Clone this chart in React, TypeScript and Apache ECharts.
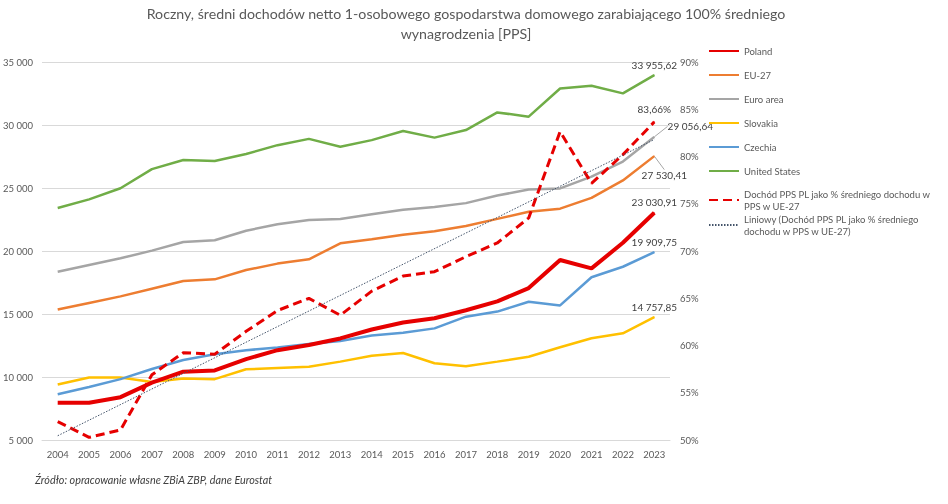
import React, { useEffect, useRef } from 'react';
import * as echarts from 'echarts';

const years = ['2004', '2005', '2006', '2007', '2008', '2009', '2010', '2011', '2012', '2013',
  '2014', '2015', '2016', '2017', '2018', '2019', '2020', '2021', '2022', '2023'];

// dochód w PPS
const poland = [7950, 7950, 8400, 9550, 10420, 10520, 11420, 12130, 12540, 13060,
  13770, 14320, 14660, 15300, 16000, 17060, 19290, 18620, 20650, 23030.91];
const eu27 = [15350, 15880, 16400, 17010, 17620, 17750, 18490, 19000, 19340, 20610,
  20940, 21290, 21560, 21980, 22550, 23120, 23360, 24220, 25600, 27530.41];
const euroArea = [18360, 18890, 19420, 20030, 20710, 20850, 21610, 22120, 22460, 22540,
  22910, 23280, 23490, 23800, 24400, 24880, 24970, 25900, 27100, 29056.64];
const slovakia = [9400, 9960, 9960, 9600, 9890, 9830, 10610, 10720, 10820, 11220,
  11680, 11900, 11090, 10850, 11220, 11610, 12360, 13070, 13470, 14757.85];
const czechia = [8630, 9200, 9830, 10630, 11350, 11800, 12120, 12350, 12620, 12860,
  13300, 13520, 13860, 14790, 15190, 15970, 15680, 17920, 18750, 19909.75];
const unitedStates = [23410, 24100, 24980, 26500, 27220, 27150, 27700, 28400, 28900, 28280,
  28800, 29520, 29000, 29600, 31000, 30660, 32900, 33120, 32510, 33955.62];

// dochód PL jako % średniego dochodu w UE-27
const plShare = [51.94, 50.28, 51.06, 56.9, 59.24, 59.08, 61.5, 63.7, 64.99, 63.2,
  65.75, 67.35, 67.81, 69.4, 70.85, 73.5, 82.63, 77.16, 80.2, 83.66];
const trendStart = 50.45;
const trendEnd = 81.8;

const leftTicks = { min: 5000, max: 35000, interval: 5000 };
const rightTicks = { min: 50, max: 90, interval: 5 };

const FONT = 'Lato, "Open Sans", sans-serif';
const TXT = '#595959';

const thousands = (v: number) => String(v).replace(/\B(?=(\d{3})+(?!\d))/g, ' ');
const money = (v: number) => {
  const [i, d] = v.toFixed(2).split('.');
  return thousands(Number(i)) + ',' + d;
};

export default function App() {
  const chartRef = useRef<HTMLDivElement>(null);

  useEffect(() => {
    if (!chartRef.current) return;
    const chart = echarts.init(chartRef.current, null, { renderer: 'svg' });

    // etykieta tylko przy ostatnim punkcie
    const lastLabel = (arr: number[], text: string, extra: any = {}) =>
      arr.map((v, i) =>
        i === arr.length - 1
          ? {
              value: v,
              symbol: 'circle',
              symbolSize: 1,
              label: {
                show: true,
                position: 'top',
                distance: 5,
                formatter: text,
                color: '#404040',
                fontSize: 10,
                fontFamily: FONT,
                ...extra,
              },
            }
          : v
      );

    const moneySeries = (name: string, data: number[], color: string, width: number, extra: any = {}, labelExtra: any = {}) => ({
      name,
      type: 'line',
      data: lastLabel(data, money(data[data.length - 1]), labelExtra),
      symbol: 'none',
      lineStyle: { color, width },
      itemStyle: { color },
      ...extra,
    });

    const legendBase = {
      orient: 'vertical',
      left: 708,
      padding: 0,
      itemWidth: 30,
      itemHeight: 12,
      itemStyle: { opacity: 0 },
    };

    const option = {
      animation: false,
      textStyle: { fontFamily: FONT },
      title: {
        text: 'Roczny, średni dochodów netto 1-osobowego gospodarstwa domowego zarabiającego 100% średniego\nwynagrodzenia [PPS]',
        left: 466,
        textAlign: 'center',
        top: 3,
        padding: 0,
        textStyle: { fontSize: 14.2, fontWeight: 'normal', color: TXT, lineHeight: 20, fontFamily: FONT },
      },
      grid: { left: 42, right: 278, top: 62, bottom: 64, outerBoundsMode: 'none' },
      legend: [
        {
          ...legendBase,
          top: 45,
          itemGap: 12,
          data: ['Poland', 'EU-27', 'Euro area', 'Slovakia', 'Czechia', 'United States'],
          textStyle: { fontSize: 9.5, color: TXT, fontFamily: FONT, lineHeight: 12 },
        },
        {
          ...legendBase,
          top: 182,
          data: ['Dochód PPS PL jako % średniego dochodu w PPS w UE-27'],
          formatter: () => 'Dochód PPS PL jako % średniego dochodu w\nPPS w UE-27',
          textStyle: { fontSize: 9.5, color: TXT, fontFamily: FONT, lineHeight: 12, padding: [12, 0, 0, 0] },
        },
        {
          ...legendBase,
          top: 207,
          data: ['Liniowy (Dochód PPS PL jako % średniego dochodu w PPS w UE-27)'],
          formatter: () => 'Liniowy (Dochód PPS PL jako % średniego\ndochodu w PPS w UE-27)',
          textStyle: { fontSize: 9.5, color: TXT, fontFamily: FONT, lineHeight: 12, padding: [12, 0, 0, 0] },
        },
      ],
      xAxis: {
        type: 'category',
        data: years,
        boundaryGap: true,
        axisLine: { lineStyle: { color: '#D9D9D9' } },
        axisTick: { show: false },
        axisLabel: { color: TXT, fontSize: 9.5, margin: 9, interval: 0 },
      },
      yAxis: [
        {
          type: 'value',
          ...leftTicks,
          axisLine: { show: false },
          axisTick: { show: false },
          splitLine: { lineStyle: { color: '#D9D9D9' } },
          axisLabel: { color: TXT, fontSize: 9.5, margin: 9, formatter: (v: number) => thousands(v) },
        },
        {
          type: 'value',
          ...rightTicks,
          position: 'right',
          axisLine: { show: false },
          axisTick: { show: false },
          splitLine: { show: false },
          axisLabel: { color: TXT, fontSize: 9.5, margin: 10, formatter: '{value}%' },
        },
      ],
      series: [
        moneySeries('EU-27', eu27, '#ED7D31', 2.5,
          {
            labelLine: { show: true, lineStyle: { color: '#A6A6A6', width: 1 } },
            labelLayout: { dx: 10, dy: 8 },
          },
          { position: 'bottom', distance: 5 }),
        moneySeries('Euro area', euroArea, '#A5A5A5', 2.5,
          {
            labelLine: { show: true, lineStyle: { color: '#A6A6A6', width: 1 } },
            labelLayout: { dx: 36, dy: 0 },
          }),
        moneySeries('Slovakia', slovakia, '#FFC000', 2.5),
        moneySeries('Czechia', czechia, '#5B9BD5', 2.5),
        moneySeries('United States', unitedStates, '#70AD47', 2.5),
        moneySeries('Poland', poland, '#E60000', 4),
        {
          name: 'Dochód PPS PL jako % średniego dochodu w PPS w UE-27',
          type: 'line',
          yAxisIndex: 1,
          data: lastLabel(plShare, plShare[plShare.length - 1].toFixed(2).replace('.', ',') + '%', { distance: 7 }),
          symbol: 'none',
          lineStyle: { color: '#E60000', width: 3, type: [9, 5] },
          itemStyle: { color: '#E60000' },
        },
        {
          name: 'Liniowy (Dochód PPS PL jako % średniego dochodu w PPS w UE-27)',
          type: 'line',
          yAxisIndex: 1,
          data: [[years[0], trendStart], [years[years.length - 1], trendEnd]],
          symbol: 'none',
          lineStyle: { color: '#44546A', width: 1, type: [1.5, 1.5] },
          itemStyle: { color: '#44546A' },
        },
      ],
      graphic: [
        {
          type: 'text',
          left: 35,
          top: 474,
          style: {
            text: 'Źródło: opracowanie własne ZBiA ZBP, dane Eurostat',
            fontSize: 10.8,
            fontStyle: 'italic',
            fill: '#404040',
            fontFamily: FONT,
          },
        },
      ],
    };

    chart.setOption(option as any);
    return () => chart.dispose();
  }, []);

  return <div ref={chartRef} style={{ position: 'fixed', left: 0, top: 0, width: 948, height: 504 }} />;
}
